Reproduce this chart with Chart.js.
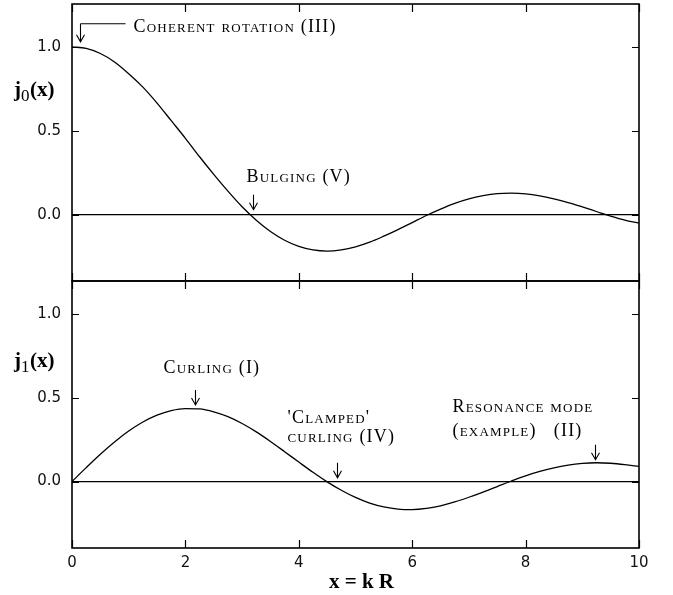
<!DOCTYPE html>
<html>
<head>
<meta charset="utf-8">
<script src="https://cdn.jsdelivr.net/npm/chart.js@4.4.0/dist/chart.umd.min.js"></script>
<style>
  html, body { margin: 0; padding: 0; background: #fff; }
  #wrap { position: relative; width: 673px; height: 595px; }
  #wrap canvas { position: absolute; left: 0; top: 0; }
</style>
</head>
<body>
<div id="wrap">
  <canvas id="topChart" width="673" height="595"></canvas>
  <canvas id="bottomChart" width="673" height="595"></canvas>
</div>
<script>
// x = kR, read every 0.25
const xValues = [0, 0.25, 0.5, 0.75, 1, 1.25, 1.5, 1.75, 2, 2.25, 2.5, 2.75, 3, 3.25, 3.5, 3.75,
  4, 4.25, 4.5, 4.75, 5, 5.25, 5.5, 5.75, 6, 6.25, 6.5, 6.75, 7, 7.25, 7.5, 7.75,
  8, 8.25, 8.5, 8.75, 9, 9.25, 9.5, 9.75, 10];
const j0Values = [1.00, 0.99, 0.96, 0.91, 0.84, 0.76, 0.665, 0.56, 0.455, 0.345, 0.24, 0.14, 0.047, -0.033, -0.10, -0.152,
  -0.189, -0.21, -0.217, -0.21, -0.192, -0.164, -0.128, -0.089, -0.047, -0.005, 0.033, 0.067, 0.094, 0.113, 0.125, 0.128,
  0.124, 0.112, 0.094, 0.072, 0.046, 0.019, -0.008, -0.032, -0.05];
const j1Values = [0, 0.083, 0.163, 0.236, 0.301, 0.355, 0.396, 0.423, 0.435, 0.433, 0.416, 0.387, 0.346, 0.296, 0.239, 0.178,
  0.116, 0.055, -0.002, -0.052, -0.095, -0.129, -0.152, -0.165, -0.168, -0.161, -0.145, -0.122, -0.094, -0.063, -0.03, 0.003,
  0.034, 0.06, 0.082, 0.098, 0.108, 0.112, 0.109, 0.101, 0.09];
const xTicks = [0, 2, 4, 6, 8, 10];
const yTicks = [0, 0.5, 1.0];

// annotations: label lines, x of the arrow, y the arrow points at
const topNotes = [
  { lines: ['Coherent rotation (III)'], x: 0.14, y: 1.03, elbow: true },
  { lines: ['Bulging (V)'], x: 3.2, y: 0.03 }
];
const bottomNotes = [
  { lines: ['Curling (I)'], x: 2.17, y: 0.457 },
  { lines: ["'Clamped'", 'curling (IV)'], x: 4.67, y: 0.022 },
  { lines: ['Resonance mode', '(example)   (II)'], x: 9.22, y: 0.13 }
];

const W = 673, H = 595;
const serif = '"Liberation Serif", "Times New Roman", serif';

function arrowDown(ctx, x, y1, y2) {
  ctx.beginPath();
  ctx.moveTo(x, y1); ctx.lineTo(x, y2);
  ctx.moveTo(x - 4, y2 - 7); ctx.lineTo(x, y2); ctx.lineTo(x + 4, y2 - 7);
  ctx.stroke();
}

function noteFont(ctx) {
  ctx.font = 'small-caps 18px ' + serif;
  if ('fontVariantCaps' in ctx) ctx.fontVariantCaps = 'small-caps';
  if ('letterSpacing' in ctx) ctx.letterSpacing = '1.2px';
}

const framePlugin = {
  id: 'frame',
  afterDatasetsDraw(chart, args, opts) {
    const { ctx, chartArea: a, scales: { x, y } } = chart;
    ctx.save();
    ctx.strokeStyle = '#000';
    ctx.lineWidth = 1.6;
    ctx.strokeRect(a.left, a.top, a.right - a.left, a.bottom - a.top);
    ctx.lineWidth = 1.2;
    ctx.beginPath();
    xTicks.forEach(v => {
      const px = Math.round(x.getPixelForValue(v)) + 0.5;
      ctx.moveTo(px, a.top); ctx.lineTo(px, a.top + 8);
      ctx.moveTo(px, a.bottom); ctx.lineTo(px, a.bottom - 8);
    });
    yTicks.forEach(v => {
      const py = Math.round(y.getPixelForValue(v)) + 0.5;
      ctx.moveTo(a.left, py); ctx.lineTo(a.left + 7, py);
      ctx.moveTo(a.right, py); ctx.lineTo(a.right - 7, py);
    });
    ctx.stroke();

    // y title with subscript
    ctx.fillStyle = '#000';
    ctx.textBaseline = 'alphabetic';
    ctx.textAlign = 'left';
    const by = a.top + opts.titleDy;
    ctx.font = 'bold 21px ' + serif;
    ctx.fillText('j', 14, by);
    ctx.font = '17px ' + serif;
    ctx.fillText(opts.sub, 21, by + 5);
    ctx.font = 'bold 21px ' + serif;
    ctx.fillText('(x)', 30, by);

    if (opts.xTitle) {
      ctx.textAlign = 'center';
      ctx.fillText('x = k R', (a.left + a.right) / 2 + 6, 588);
    }

    // annotations
    ctx.lineWidth = 1.1;
    opts.notes.forEach((n, k) => {
      const px = Math.round(x.getPixelForValue(n.x)) + 0.5;
      const py = y.getPixelForValue(n.y);
      noteFont(ctx);
      ctx.textAlign = 'left';
      ctx.textBaseline = 'middle';
      if (n.elbow) {
        ctx.beginPath();
        ctx.moveTo(px + 45, py - 18); ctx.lineTo(px, py - 18);
        ctx.stroke();
        arrowDown(ctx, px, py - 18, py);
        ctx.fillText(n.lines[0], px + 53, py - 15);
      } else {
        arrowDown(ctx, px, py - 15, py);
        const off = opts.textOffsets[k];
        n.lines.forEach((t, i) => ctx.fillText(t, px + off[0], py + off[1] + i * off[2]));
      }
    });
    ctx.restore();
  }
};

function makeChart(id, values, yMin, yMax, pad, isBottom, pluginOpts) {
  return new Chart(document.getElementById(id), {
    type: 'line',
    data: {
      datasets: [{
        data: xValues.map((v, i) => ({ x: v, y: values[i] })),
        borderColor: '#000',
        borderWidth: 1.3,
        pointRadius: 0,
        cubicInterpolationMode: 'monotone',
        fill: false
      }]
    },
    options: {
      responsive: false,
      animation: false,
      devicePixelRatio: 1,
      layout: { padding: pad },
      plugins: { legend: { display: false }, tooltip: { enabled: false }, frame: pluginOpts },
      scales: {
        x: {
          type: 'linear', min: 0, max: 10,
          display: isBottom,
          afterBuildTicks: s => { s.ticks = xTicks.map(v => ({ value: v })); },
          afterFit: s => {
            s.height = isBottom ? 47 : 0;
            s.paddingLeft = 0; s.paddingRight = 0;
          },
          grid: { display: false, drawTicks: false },
          border: { display: false },
          ticks: { color: '#111', padding: 6, font: { family: 'DejaVu Sans', size: 15 } }
        },
        y: {
          type: 'linear', min: yMin, max: yMax,
          afterBuildTicks: s => { s.ticks = yTicks.map(v => ({ value: v })); },
          afterFit: s => {
            s.width = 72;
            s.paddingTop = 0; s.paddingBottom = 0;
          },
          grid: {
            drawTicks: false,
            color: c => (c.tick && c.tick.value === 0 ? '#000' : 'rgba(0,0,0,0)'),
            lineWidth: 1.2
          },
          border: { display: false },
          ticks: {
            color: '#111', padding: 11, font: { family: 'DejaVu Sans', size: 15 },
            callback: v => Number(v).toFixed(1)
          }
        }
      }
    },
    plugins: [framePlugin]
  });
}

makeChart('topChart', j0Values, -0.395, 1.255,
  { left: 0, right: 34, top: 4, bottom: H - 281 }, false,
  { sub: '0', titleDy: 92, notes: topNotes, textOffsets: [null, [-7, -32, 0]] });

makeChart('bottomChart', j1Values, -0.397, 1.197,
  { left: 0, right: 34, top: 281, bottom: 0 }, true,
  { sub: '1', titleDy: 86, xTitle: true, notes: bottomNotes,
    textOffsets: [[-32, -37, 0], [-50, -60, 19], [-143, -52, 24]] });
</script>
</body>
</html>
